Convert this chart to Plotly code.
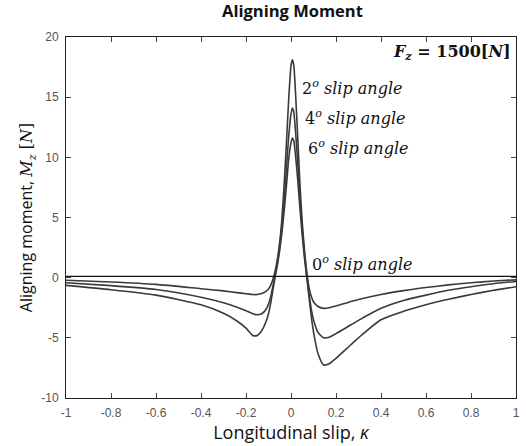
import plotly.graph_objects as go

kappa = [-1, -0.8, -0.6, -0.4, -0.3, -0.24, -0.2, -0.17, -0.15, -0.13, -0.11, -0.1, -0.09,
         -0.08, -0.07, -0.06, -0.05, -0.04, -0.03, -0.02, -0.01, 0, 0.006, 0.012, 0.02,
         0.03, 0.04, 0.05, 0.06, 0.07, 0.08, 0.09, 0.1, 0.12, 0.145, 0.17, 0.2, 0.25,
         0.3, 0.4, 0.5, 0.6, 0.7, 0.8, 0.9, 1]

mz_2deg = [-0.22, -0.36, -0.56, -0.92, -1.1, -1.24, -1.33, -1.4, -1.4, -1.32, -1.12, -0.95, -0.62,
           -0.12, 0.6, 1.6, 3.0, 5.0, 7.9, 11.3, 14.9, 17.6, 18.1, 17.7, 15.4,
           11.6, 7.7, 4.6, 2.3, 0.5, -0.8, -1.55, -2.0, -2.4, -2.55, -2.5, -2.35, -2.08,
           -1.82, -1.4, -1.08, -0.82, -0.6, -0.42, -0.28, -0.18]

mz_4deg = [-0.42, -0.66, -0.98, -1.62, -2.08, -2.45, -2.75, -3.0, -3.08, -3.0, -2.6, -2.2, -1.55,
           -0.65, 0.3, 1.3, 2.6, 4.3, 6.5, 9.1, 11.8, 13.6, 14.1, 13.8, 12.2,
           9.5, 6.6, 4.0, 1.9, 0.2, -1.3, -2.6, -3.5, -4.55, -5.0, -4.95, -4.65, -4.1,
           -3.55, -2.55, -1.9, -1.45, -1.05, -0.75, -0.5, -0.32]

mz_6deg = [-0.64, -1.0, -1.45, -2.25, -2.95, -3.6, -4.2, -4.8, -4.8, -4.4, -3.6, -3.0, -2.1,
           -1.0, 0.1, 1.1, 2.3, 3.8, 5.6, 7.7, 9.9, 11.2, 11.6, 11.4, 10.2,
           8.1, 5.7, 3.5, 1.6, 0.0, -1.6, -3.2, -4.5, -6.3, -7.25, -7.15, -6.7, -5.85,
           -5.0, -3.5, -2.8, -2.25, -1.8, -1.4, -1.05, -0.75]

kappa_0deg = [-1, 1]
mz_0deg = [0.1, 0.1]

x_ticks = [-1, -0.8, -0.6, -0.4, -0.2, 0, 0.2, 0.4, 0.6, 0.8, 1]
x_ticklabels = ["-1", "-0.8", "-0.6", "-0.4", "-0.2", "0", "0.2", "0.4", "0.6", "0.8", "1"]
y_ticks = [-10, -5, 0, 5, 10, 15, 20]
y_ticklabels = ["-10", "-5", "0", "5", "10", "15", "20"]

SERIF = "DejaVu Serif"
SANS = "Open Sans"

fig = go.Figure()
line_col = "#3a3a3a"
for ys in (mz_2deg, mz_4deg, mz_6deg):
    fig.add_trace(go.Scatter(x=kappa, y=ys, mode="lines",
                             line=dict(color=line_col, width=1.6, shape="spline", smoothing=0.6),
                             showlegend=False, hoverinfo="skip"))
fig.add_trace(go.Scatter(x=kappa_0deg, y=mz_0deg, mode="lines",
                         line=dict(color="#111111", width=1.3),
                         showlegend=False, hoverinfo="skip"))

axis_common = dict(showgrid=False, zeroline=False, showline=True, linecolor="#222222",
                   linewidth=1, mirror="ticks", ticks="inside", ticklen=5, tickcolor="#444444",
                   ticklabelstandoff=4,
                   tickfont=dict(family="Liberation Sans, Arial", size=12, color="#555555"))

fig.update_xaxes(range=[-1, 1], tickvals=x_ticks, ticktext=x_ticklabels,
                 title=dict(text="Longitudinal slip, <i>κ</i>",
                            font=dict(family=SANS, size=18, color="#111111"), standoff=2),
                 **axis_common)
fig.update_yaxes(range=[-10, 20], tickvals=y_ticks, ticktext=y_ticklabels,
                 title=dict(text="Aligning moment, <span style='font-family:DejaVu Serif'><i>M</i><sub><i>z</i></sub> [<i>N</i>]</span>",
                            font=dict(family=SANS, size=16, color="#111111"), standoff=4),
                 **axis_common)

ann_font = dict(family=SERIF, size=16, color="#111111")
labels = [
    (0.04, 15.8, "2<sup><i>o</i></sup> <i>slip angle</i>"),
    (0.055, 13.3, "4<sup><i>o</i></sup> <i>slip angle</i>"),
    (0.065, 10.8, "6<sup><i>o</i></sup> <i>slip angle</i>"),
    (0.085, 1.2, "0<sup><i>o</i></sup> <i>slip angle</i>"),
]
for x, y, t in labels:
    fig.add_annotation(x=x, y=y, text=t, showarrow=False, xanchor="left", yanchor="middle",
                       font=ann_font)
fig.add_annotation(x=0.985, y=18.7, text="<b><i>F</i><sub><i>z</i></sub> = 1500[<i>N</i>]</b>",
                   showarrow=False, xanchor="right", yanchor="middle",
                   font=dict(family=SERIF, size=16, color="#111111"))

fig.update_layout(
    width=526, height=446,
    margin=dict(l=66, r=6, t=37, b=48),
    paper_bgcolor="white", plot_bgcolor="white",
    title=dict(text="<b>Aligning Moment</b>", x=0.556, xanchor="center", y=0.975, yanchor="middle",
               font=dict(family=SANS, size=16.5, color="#111111")),
)

fig.write_html("out.html")
